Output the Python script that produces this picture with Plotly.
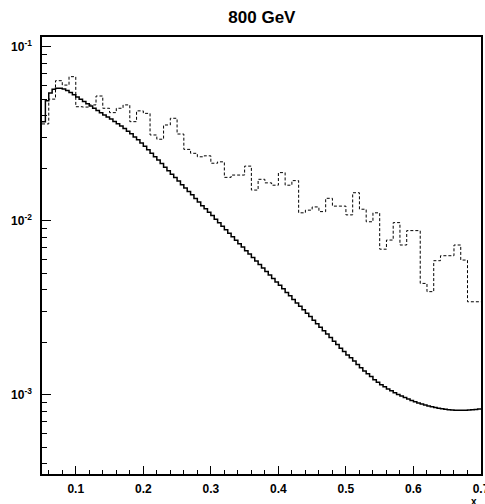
import numpy as np
import plotly.graph_objects as go

# ---------------- data ----------------
title_text = "800 GeV"

# solid histogram: 130 bins of width 0.005 from 0.05 to 0.70
solid_x_low = 0.05
solid_bin_width = 0.005
solid_values = [
    0.0370, 0.0490, 0.0543, 0.0569, 0.0578,
    0.0578, 0.0571, 0.0560, 0.0546, 0.0530, 0.0514, 0.0499, 0.0484, 0.0470,
    0.0456, 0.0443, 0.0430, 0.0417, 0.0405,
    0.0395, 0.0384, 0.0372, 0.0361, 0.0350, 0.0339, 0.0327, 0.0316, 0.0303,
    0.0292, 0.0280, 0.0268, 0.0256, 0.0244, 0.0233, 0.0223, 0.0213, 0.0203,
    0.0194, 0.0185, 0.0177,
    0.0169, 0.0161, 0.0154, 0.0147, 0.0141, 0.0134, 0.0128, 0.0122, 0.0117, 0.0112,
    0.0107, 0.0102, 0.00973, 0.00929, 0.00887, 0.00847, 0.00809, 0.00773, 0.00738, 0.00705,
    0.00673, 0.00643, 0.00614, 0.00586, 0.00560, 0.00535, 0.00511, 0.00488, 0.00466, 0.00445,
    0.00425, 0.00406, 0.00387, 0.00370, 0.00353, 0.00337, 0.00322, 0.00308, 0.00294, 0.00281,
    0.00268, 0.00256, 0.00244, 0.00233, 0.00223, 0.00213, 0.00203, 0.00194, 0.00185, 0.00177,
    0.00169, 0.00163,
    0.00156, 0.00149, 0.00143, 0.00137, 0.00132, 0.00127, 0.00122, 0.00118, 0.00114, 0.00111,
    0.001079, 0.001052, 0.001026, 0.001002, 0.000982, 0.000962, 0.000944, 0.000927,
    0.000912, 0.000897, 0.000883, 0.000873, 0.000861, 0.000851, 0.000843, 0.000836,
    0.000830, 0.000824, 0.000820, 0.000817, 0.000815, 0.000813, 0.000813, 0.000815,
    0.000817, 0.000820, 0.000822, 0.000828,
]

# dashed histogram: 65 bins of width 0.01 from 0.05 to 0.70
dashed_x_low = 0.05
dashed_bin_width = 0.01
dashed_values = [
    0.0360, 0.0500, 0.0638, 0.0602, 0.0673, 0.0452, 0.0450, 0.0463, 0.0521, 0.0443,
    0.0418, 0.0443, 0.0463, 0.0371, 0.0428, 0.0414, 0.0311, 0.0294, 0.0355, 0.0388,
    0.0315, 0.0257, 0.0244, 0.0233, 0.0236, 0.0214, 0.0218, 0.01775, 0.0183, 0.0183,
    0.0206, 0.0150, 0.0173, 0.0165, 0.0160, 0.0189, 0.0160, 0.0170, 0.0111, 0.0115,
    0.0120, 0.01128, 0.01345, 0.01213, 0.01213, 0.0108, 0.01448, 0.01164, 0.00986, 0.0111,
    0.00686, 0.00774, 0.00975, 0.00725, 0.00877, 0.00877, 0.00436, 0.00391, 0.00589, 0.00629,
    0.00629, 0.00725, 0.00594, 0.00342, 0.00342,
]

x_tick_vals = [0.1, 0.2, 0.3, 0.4, 0.5, 0.6, 0.7]
x_tick_text = ["0.1", "0.2", "0.3", "0.4", "0.5", "0.6", "0.7"]
y_tick_vals = [1e-3, 1e-2, 1e-1]
y_tick_text = ["10<sup>-3</sup>", "10<sup>-2</sup>", "10<sup>-1</sup>"]
x_axis_label = "x"


def step_xy(x_low, width, values):
    n = len(values)
    edges = np.round(x_low + width * np.arange(n + 1), 6)
    ys = list(values) + [values[-1]]
    return edges, ys


sx, sy = step_xy(solid_x_low, solid_bin_width, solid_values)
dx, dy = step_xy(dashed_x_low, dashed_bin_width, dashed_values)

fig = go.Figure()
fig.add_trace(go.Scatter(
    x=dx, y=dy, mode="lines", line_shape="hv",
    line=dict(color="black", width=1, dash="3px,2px"),
    showlegend=False, hoverinfo="skip",
))
fig.add_trace(go.Scatter(
    x=sx, y=sy, mode="lines", line_shape="hv",
    line=dict(color="black", width=1.5),
    showlegend=False, hoverinfo="skip",
))

font_family = "Liberation Sans, Arial, sans-serif"

fig.update_layout(
    width=485, height=504,
    margin=dict(l=42, r=4, t=37, b=30, autoexpand=False),
    paper_bgcolor="white", plot_bgcolor="white",
    title=dict(text=title_text, x=0.54, xanchor="center", y=0.966, yanchor="middle",
               font=dict(family=font_family, size=17, color="black", weight="bold")),
    xaxis=dict(
        range=[0.05, 0.70], showgrid=False, zeroline=False, automargin=False,
        showline=True, linecolor="black", linewidth=1.5, mirror=True,
        ticks="inside", ticklen=8, tickwidth=1, tickcolor="black",
        tickvals=x_tick_vals, ticktext=x_tick_text,
        tickfont=dict(family=font_family, size=12, color="black", weight="bold"),
        ticklabelstandoff=3, ticklabeloverflow="allow",
        minor=dict(ticks="inside", ticklen=4, tickwidth=1, tickcolor="black",
                   dtick=0.02, tick0=0.0, showgrid=False),
    ),
    yaxis=dict(
        type="log", range=[-3.456, -0.944], showgrid=False, zeroline=False,
        automargin=False,
        showline=True, linecolor="black", linewidth=1.5, mirror=True,
        ticks="inside", ticklen=9, tickwidth=1, tickcolor="black",
        tickvals=y_tick_vals, ticktext=y_tick_text,
        tickfont=dict(family=font_family, size=12, color="black", weight="bold"),
        ticklabelstandoff=6, ticklabeloverflow="allow",
        minor=dict(ticks="inside", ticklen=5, tickwidth=1, tickcolor="black",
                   dtick="D1", showgrid=False),
    ),
)

fig.add_annotation(
    text=x_axis_label, xref="paper", yref="paper", x=0.985, y=-0.045,
    xanchor="center", yanchor="top", showarrow=False,
    font=dict(family=font_family, size=10, color="black", weight="bold"),
)

fig.write_html(
    "out.html",
    config={"displayModeBar": False},
    post_script="document.body.style.margin='0px';",
)
